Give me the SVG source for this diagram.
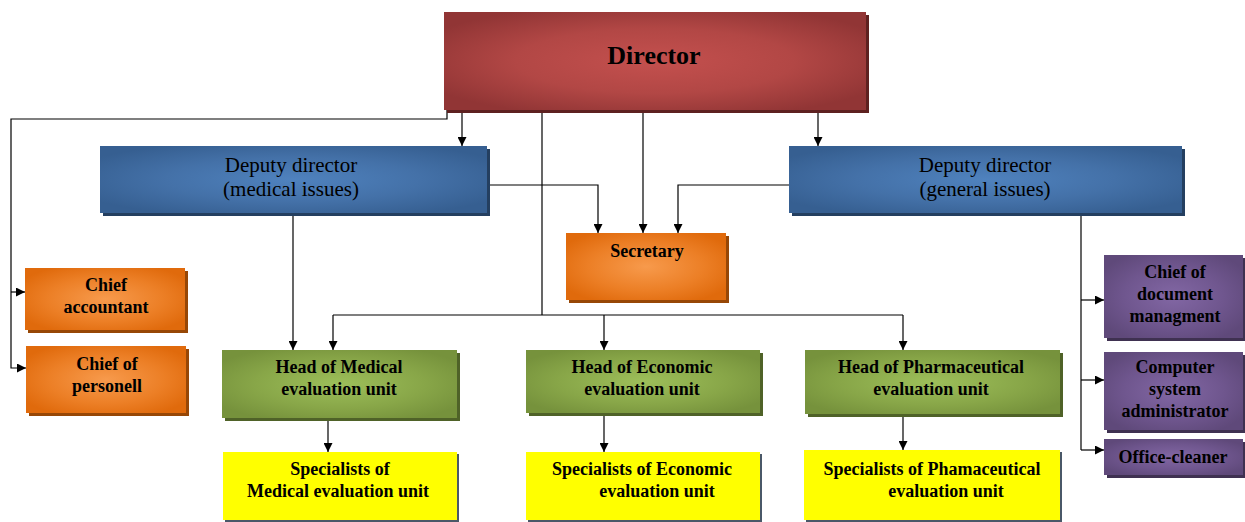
<svg xmlns="http://www.w3.org/2000/svg" width="1245" height="522" viewBox="0 0 1245 522">
<defs>
<radialGradient id="gRed" cx="50%" cy="50%" r="60%"><stop offset="0" stop-color="#c4504e"/><stop offset="0.55" stop-color="#b24745"/><stop offset="1" stop-color="#913535"/></radialGradient>
<radialGradient id="gBlue" cx="50%" cy="50%" r="60%"><stop offset="0" stop-color="#4f82be"/><stop offset="0.55" stop-color="#4471a8"/><stop offset="1" stop-color="#365f91"/></radialGradient>
<radialGradient id="gOrange" cx="50%" cy="50%" r="60%"><stop offset="0" stop-color="#f79a4c"/><stop offset="0.6" stop-color="#ec7f26"/><stop offset="1" stop-color="#e06a0c"/></radialGradient>
<radialGradient id="gGreen" cx="50%" cy="50%" r="60%"><stop offset="0" stop-color="#9dbf5a"/><stop offset="0.6" stop-color="#88a648"/><stop offset="1" stop-color="#76923c"/></radialGradient>
<radialGradient id="gPurple" cx="50%" cy="50%" r="60%"><stop offset="0" stop-color="#8267a4"/><stop offset="0.6" stop-color="#6f568e"/><stop offset="1" stop-color="#5f497a"/></radialGradient>
<marker id="arr" viewBox="0 0 10 10" refX="10" refY="5" markerWidth="9" markerHeight="9" markerUnits="userSpaceOnUse" orient="auto"><path d="M0,0 L10,5 L0,10 Z" fill="#000"/></marker>
</defs>
<style>
.lbl{font-family:"Liberation Serif","Times New Roman",serif;font-size:18px;font-weight:bold;fill:#000;text-anchor:middle}
.dep{font-family:"Liberation Serif","Times New Roman",serif;font-size:21px;fill:#000;text-anchor:middle}
.ttl{font-family:"Liberation Serif","Times New Roman",serif;font-size:26px;font-weight:bold;fill:#000;text-anchor:middle}
.c{fill:none;stroke:#000;stroke-width:1.2}
.a{marker-end:url(#arr)}
.shR{fill:#5e2120}.shB{fill:#243f60}.shO{fill:#974706}.shG{fill:#4f6228}.shP{fill:#3f3151}.shY{fill:#4a5868}
</style>
<rect width="1245" height="522" fill="#fff"/>
<g id="connectors">
<path class="c" d="M447 110 V119 H11 V292"/>
<path class="c a" d="M11 292 H25"/>
<path class="c a" d="M11 292 V368 H26"/>
<path class="c a" d="M462 110 V146"/>
<path class="c" d="M542 110 V315"/>
<path class="c" d="M333 315 H903"/>
<path class="c a" d="M333 315 V350"/>
<path class="c a" d="M604 315 V350"/>
<path class="c a" d="M903 315 V350"/>
<path class="c a" d="M643 110 V233"/>
<path class="c a" d="M818 110 V146"/>
<path class="c a" d="M487 185 H598 V233"/>
<path class="c a" d="M789 185 H678 V233"/>
<path class="c a" d="M293 213 V350"/>
<path class="c" d="M1081 213 V450"/>
<path class="c a" d="M1081 300 H1104"/>
<path class="c a" d="M1081 380 H1104"/>
<path class="c a" d="M1081 450 H1104"/>
<path class="c a" d="M328 420 V452"/>
<path class="c a" d="M604 414 V452"/>
<path class="c a" d="M903 415 V450"/>
</g>
<g id="director">
<rect class="shR" x="447" y="15" width="422" height="98"/>
<rect x="444" y="12" width="422" height="98" fill="url(#gRed)"/>
<text class="ttl" x="654" y="64">Director</text>
</g>
<g id="deputy-medical">
<rect class="shB" x="103" y="149" width="387" height="67"/>
<rect x="100" y="146" width="387" height="67" fill="url(#gBlue)"/>
<text class="dep" x="291" y="172">Deputy director</text>
<text class="dep" x="291" y="196">(medical issues)</text>
</g>
<g id="deputy-general">
<rect class="shB" x="792" y="149" width="393" height="67"/>
<rect x="789" y="146" width="393" height="67" fill="url(#gBlue)"/>
<text class="dep" x="985" y="172">Deputy director</text>
<text class="dep" x="985" y="196">(general issues)</text>
</g>
<g id="secretary">
<rect class="shO" x="569" y="236" width="160" height="67"/>
<rect x="566" y="233" width="160" height="67" fill="url(#gOrange)"/>
<text class="lbl" x="647" y="257">Secretary</text>
</g>
<g id="chief-accountant">
<rect class="shO" x="28" y="271" width="160" height="62"/>
<rect x="25" y="268" width="160" height="62" fill="url(#gOrange)"/>
<text class="lbl" x="106" y="291">Chief</text>
<text class="lbl" x="106" y="313">accountant</text>
</g>
<g id="chief-personell">
<rect class="shO" x="29" y="349" width="160" height="67"/>
<rect x="26" y="346" width="160" height="67" fill="url(#gOrange)"/>
<text class="lbl" x="107" y="370">Chief of</text>
<text class="lbl" x="107" y="392">personell</text>
</g>
<g id="head-medical">
<rect class="shG" x="225" y="353" width="235" height="68"/>
<rect x="222" y="350" width="235" height="68" fill="url(#gGreen)"/>
<text class="lbl" x="339" y="373">Head of Medical</text>
<text class="lbl" x="339" y="395">evaluation unit</text>
</g>
<g id="head-economic">
<rect class="shG" x="529" y="353" width="234" height="63"/>
<rect x="526" y="350" width="234" height="63" fill="url(#gGreen)"/>
<text class="lbl" x="642" y="373">Head of Economic</text>
<text class="lbl" x="642" y="395">evaluation unit</text>
</g>
<g id="head-pharmaceutical">
<rect class="shG" x="808" y="353" width="255" height="64"/>
<rect x="805" y="350" width="255" height="64" fill="url(#gGreen)"/>
<text class="lbl" x="931" y="373">Head of Pharmaceutical</text>
<text class="lbl" x="931" y="395">evaluation unit</text>
</g>
<g id="spec-medical">
<rect class="shY" x="225" y="454" width="234" height="68"/>
<rect x="223" y="452" width="234" height="68" fill="#ffff00"/>
<text class="lbl" x="340" y="475">Specialists of</text>
<text class="lbl" x="338" y="497">Medical evaluation unit</text>
</g>
<g id="spec-economic">
<rect class="shY" x="528" y="454" width="234" height="68"/>
<rect x="526" y="452" width="234" height="68" fill="#ffff00"/>
<text class="lbl" x="642" y="475">Specialists of Economic</text>
<text class="lbl" x="657" y="497">evaluation unit</text>
</g>
<g id="spec-pharmaceutical">
<rect class="shY" x="806" y="452" width="256" height="70"/>
<rect x="804" y="450" width="256" height="70" fill="#ffff00"/>
<text class="lbl" x="932" y="475">Specialists of Phamaceutical</text>
<text class="lbl" x="946" y="497">evaluation unit</text>
</g>
<g id="chief-document">
<rect class="shP" x="1107" y="258" width="139" height="83"/>
<rect x="1104" y="255" width="139" height="83" fill="url(#gPurple)"/>
<text class="lbl" x="1175" y="278">Chief of</text>
<text class="lbl" x="1175" y="300">document</text>
<text class="lbl" x="1175" y="322">managment</text>
</g>
<g id="computer-admin">
<rect class="shP" x="1107" y="355" width="139" height="78"/>
<rect x="1104" y="352" width="139" height="78" fill="url(#gPurple)"/>
<text class="lbl" x="1175" y="373">Computer</text>
<text class="lbl" x="1175" y="395">system</text>
<text class="lbl" x="1175" y="417">administrator</text>
</g>
<g id="office-cleaner">
<rect class="shP" x="1107" y="442" width="139" height="36"/>
<rect x="1104" y="439" width="139" height="36" fill="url(#gPurple)"/>
<text class="lbl" x="1173" y="463">Office-cleaner</text>
</g>
</svg>
